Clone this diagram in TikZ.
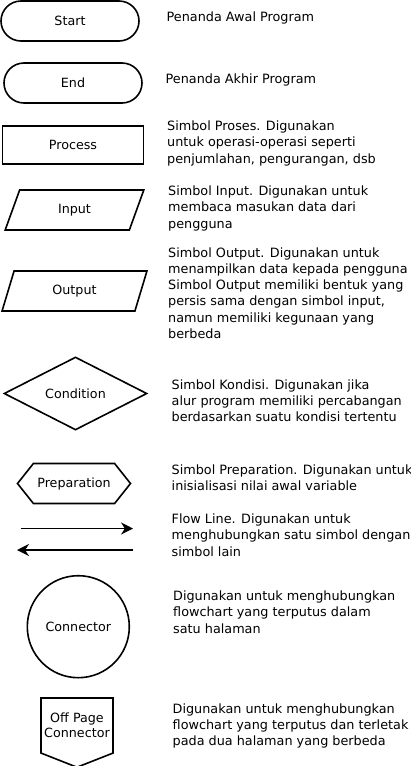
\documentclass[tikz,border=0pt]{standalone}
\usepackage{fontspec}
\setmainfont{DejaVu Sans}
\usetikzlibrary{shapes.geometric,shapes.misc,shapes.symbols,arrows.meta}

\tikzstyle{symbol}=[draw=black,line width=1.6pt,inner sep=0pt,font=\fontsize{12.7}{15.3}\selectfont]
\tikzstyle{terminal}=[symbol,rounded rectangle,minimum width=138pt,minimum height=40pt]
\tikzstyle{process}=[symbol,rectangle,minimum width=141pt,minimum height=38pt]
\tikzstyle{io}=[symbol,trapezium,trapezium left angle=70,trapezium right angle=110,trapezium stretches=true,minimum height=40pt]
\tikzstyle{decision}=[symbol,diamond,minimum width=143pt,minimum height=73pt]
\tikzstyle{preparation}=[symbol,signal,signal to=west and east,signal pointer angle=103,minimum width=113pt,minimum height=40pt]
\tikzstyle{connector}=[symbol,circle,minimum size=102pt]
\tikzstyle{offpage}=[symbol,signal,signal to=south,signal pointer angle=137,minimum width=72pt,minimum height=68pt,align=center]
\tikzstyle{flowline}=[line width=1.7pt,-{Stealth[length=12pt,width=12pt]}]
\tikzstyle{desc}=[anchor=north west,align=left,inner sep=0pt,font=\fontsize{12.8}{16.2}\selectfont]

\begin{document}
\begin{tikzpicture}[x=1pt,y=-1pt]
\useasboundingbox (0,0) rectangle (410,766);

% symbols
\node[terminal] (sym-start) at (70,21) {Start};
\node[terminal] (sym-end) at (73,83) {End};
\node[process] (sym-process) at (73,145) {Process};
\node[io,minimum width=139pt] (sym-input) at (74.5,210) {Input};
\node[io,minimum width=145pt] (sym-output) at (74.5,291) {Output};
\node[decision] (sym-condition) at (75.5,393.5) {Condition};
\node[preparation] (sym-preparation) at (74,483.5) {Preparation};
\node[connector] (sym-connector) at (78.3,626.7) {Connector};
\node[offpage] (sym-offpage) at (77,725.5) {Off Page\\Connector};

% flow lines
\coordinate (flow-right-a) at (21,528.5);
\coordinate (flow-right-b) at (133,528.5);
\coordinate (flow-left-a) at (133,550);
\coordinate (flow-left-b) at (17,550);
\draw[flowline] (flow-right-a) -- (flow-right-b);
\draw[flowline] (flow-left-a) -- (flow-left-b);

% descriptions
\node[desc] (desc-start) at (166.5,11.3) {Penanda Awal Program};
\node[desc] (desc-end) at (165.5,73.3) {Penanda Akhir Program};
\node[desc] (desc-process) at (167,120.8) {Simbol Proses. Digunakan\\untuk operasi-operasi seperti\\penjumlahan, pengurangan, dsb};
\node[desc] (desc-input) at (168,185.8) {Simbol Input. Digunakan untuk\\membaca masukan data dari\\pengguna};
\node[desc] (desc-output) at (168,247.3) {Simbol Output. Digunakan untuk\\menampilkan data kepada pengguna\\Simbol Output memiliki bentuk yang\\persis sama dengan simbol input,\\namun memiliki kegunaan yang\\berbeda};
\node[desc] (desc-condition) at (171.5,379.5) {Simbol Kondisi. Digunakan jika\\alur program memiliki percabangan\\berdasarkan suatu kondisi tertentu};
\node[desc] (desc-preparation) at (171.5,464.5) {Simbol Preparation. Digunakan untuk\\inisialisasi nilai awal variable};
\node[desc] (desc-flow) at (171.5,513.8) {Flow Line. Digunakan untuk\\menghubungkan satu simbol dengan\\simbol lain};
\node[desc] (desc-connector) at (173,590.8) {Digunakan untuk menghubungkan\\flowchart yang terputus dalam\\satu halaman};
\node[desc] (desc-offpage) at (172.5,703.3) {Digunakan untuk menghubungkan\\flowchart yang terputus dan terletak\\pada dua halaman yang berbeda};

\end{tikzpicture}
\end{document}
